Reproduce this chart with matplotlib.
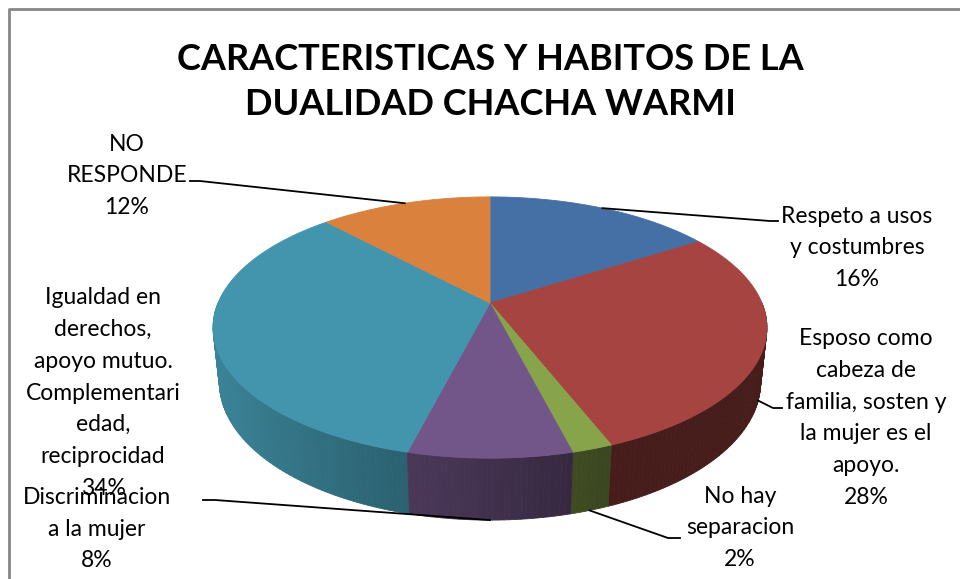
import numpy as np
import matplotlib.pyplot as plt
from matplotlib.patches import Polygon

# data
labels = [
    "Respeto a usos\ny costumbres",
    "Esposo como\ncabeza de\nfamilia, sosten y\nla mujer es el\napoyo.",
    "No hay\nseparacion",
    "Discriminacion\na la mujer",
    "Igualdad en\nderechos,\napoyo mutuo.\nComplementari\nedad,\nreciprocidad",
    "NO\nRESPONDE",
]
values = [16, 28, 2, 8, 34, 12]
colors = ["#4570A5", "#A64442", "#88A44B", "#735689", "#4295AC", "#D9813D"]
title = "CARACTERISTICAS Y HABITOS DE LA\nDUALIDAD CHACHA WARMI"

# label layout (pixel positions), leader bend points, anchor on top rim or bottom rim
label_pos = [(857, 248), (866, 418), (740, 528), (97, 529), (103, 393), (127, 176)]
leaders = [
    [(770, 221), (778, 221)],
    [(773, 408), (782, 408)],
    [(668, 538), (680, 538)],
    [(215, 500), (203, 500)],
    None,
    [(200, 181), (190, 181)],
]
anchor_bottom = [False, True, True, True, False, False]

# 3d projection of the pie
CX, CY, SCALE = 490, 303, 272
ELEV = np.radians(27.6)
DIST = 4.72
DEPTH = 0.229


def project(phi_deg, r=1.0, z=0.0):
    phi = np.radians(phi_deg)
    x = r * np.cos(phi)
    y = r * np.sin(phi)
    up = y * np.sin(ELEV) + z * np.cos(ELEV)
    depth = y * np.cos(ELEV) - z * np.sin(ELEV)
    f = DIST / (DIST + depth)
    return CX + SCALE * x * f, CY - SCALE * up * f


def shade(phi_deg):
    t = np.clip((290 - phi_deg) / 110, 0, 1)
    return 0.43 + 0.47 * np.sin(t * np.pi / 2)


def darken(color, k):
    rgb = np.array(plt.matplotlib.colors.to_rgb(color))
    return tuple(rgb * k)


fig = plt.figure(figsize=(9.6, 5.79), dpi=100)
ax = fig.add_axes([0, 0, 1, 1])
ax.set_xlim(0, 960)
ax.set_ylim(579, 0)
ax.axis('off')

# slice angles, clockwise from 12 o'clock
bounds = 450 - np.concatenate([[0], np.cumsum(values)]) * 3.6
slices = [(bounds[i], bounds[i + 1]) for i in range(len(values))]

# side walls (front part only), far strips first
strips = []
for (hi, lo), col in zip(slices, colors):
    a, b = max(lo, 180), min(hi, 360)
    if a >= b:
        continue
    edges = np.linspace(a, b, int(np.ceil(b - a)) + 1)
    for p1, p2 in zip(edges[:-1], edges[1:]):
        mid = (p1 + p2) / 2
        quad = [project(p1), project(p2), project(p2, z=-DEPTH), project(p1, z=-DEPTH)]
        strips.append((np.sin(np.radians(mid)), quad, darken(col, shade(mid))))
strips.sort(key=lambda s: -s[0])
for _, quad, c in strips:
    ax.add_patch(Polygon(quad, closed=True, facecolor=c, edgecolor=c, lw=0.6))

# top faces
for (hi, lo), col in zip(slices, colors):
    phis = np.linspace(hi, lo, int(np.ceil((hi - lo) * 2)) + 1)
    pts = [(CX, CY)] + [project(p) for p in phis]
    ax.add_patch(Polygon(pts, closed=True, facecolor=col, edgecolor=col, lw=0.6))

# leader lines and labels
font = 'Lato'
for i, ((hi, lo), lab, val) in enumerate(zip(slices, labels, values)):
    mid = (hi + lo) / 2
    if leaders[i] is not None:
        ax0 = project(mid, z=-DEPTH if anchor_bottom[i] else 0.0)
        pts = [ax0] + leaders[i]
        ax.plot([p[0] for p in pts], [p[1] for p in pts], color='black', lw=1.3)
    ax.text(label_pos[i][0], label_pos[i][1], f"{lab}\n{val}%", ha='center', va='center',
            multialignment='center', fontsize=16.5, family=font, linespacing=1.63, color='black')

ax.text(490, 82, title, ha='center', va='center', fontsize=26, fontweight='bold',
        family=font, linespacing=1.45, color='black')

# chart frame
ax.plot([9, 9, 960], [579, 9, 9], color='#868686', lw=2, solid_capstyle='butt')

fig.savefig('out.png', dpi=100)
